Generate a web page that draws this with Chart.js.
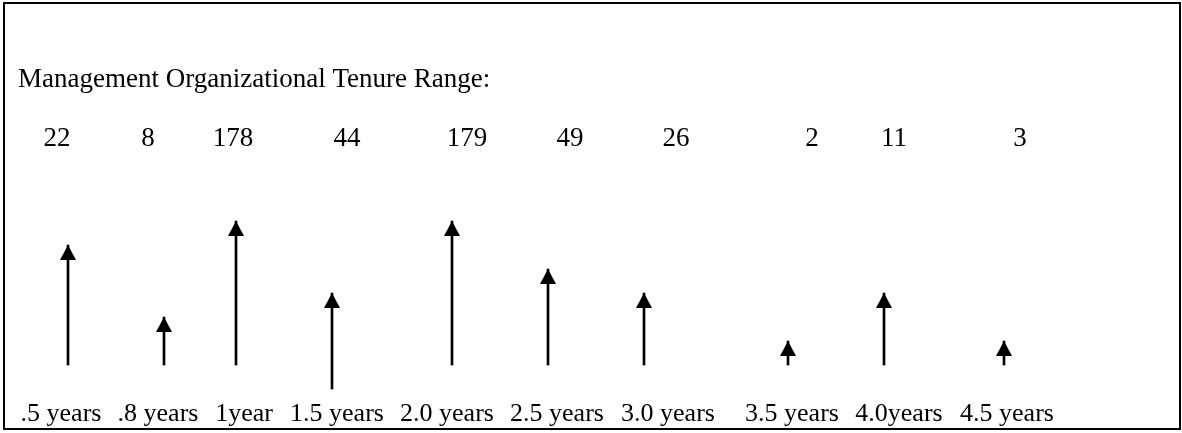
<!DOCTYPE html>
<html><head><meta charset="utf-8">
<script src="https://cdn.jsdelivr.net/npm/chart.js@4.4.0/dist/chart.umd.min.js"></script>
<style>html,body{margin:0;padding:0;background:#fff;}canvas{display:block;}</style>
</head><body>
<canvas id="c" width="1182" height="433"></canvas>
<script>
const titleText = 'Management Organizational Tenure Range:';
const categories = ['.5 years', '.8 years', '1year', '1.5 years', '2.0 years', '2.5 years', '3.0 years', '3.5 years', '4.0years', '4.5 years'];
const counts = [22, 8, 178, 44, 179, 49, 26, 2, 11, 3];
const slotPositions = [0, 4, 7, 11, 16, 20, 24, 30, 34, 39];
const arrowTop = [5, 2, 6, 3, 6, 4, 3, 1, 3, 1];
const arrowBase = [0, 0, 0, -1, 0, 0, 0, 0, 0, 0];

// layout (pixels / styles)
const FONT = '"Liberation Serif", "Times New Roman", serif';
const countDx = [-11, -16, -3, 15, 15, 22, 32, 24, 10, 16];
const labelDx = [-7, -6, 8, 5, -5, 9, 24, 4, 15, 3];

const arrowData = slotPositions.map((s, i) => ({ x: s, y: [arrowBase[i], arrowTop[i]] }));

const decor = {
  id: 'decor',
  beforeDraw(chart) {
    const ctx = chart.ctx;
    ctx.save();
    ctx.fillStyle = '#fff';
    ctx.fillRect(0, 0, chart.width, chart.height);
    ctx.strokeStyle = '#000';
    ctx.lineWidth = 2;
    ctx.strokeRect(4, 3, 1176, 426);
    ctx.restore();
  },
  afterDatasetsDraw(chart) {
    const ctx = chart.ctx;
    const meta = chart.getDatasetMeta(0);
    const ys = chart.scales.y;
    ctx.save();
    ctx.fillStyle = '#000';
    meta.data.forEach((el, i) => {
      const x = el.x;
      const y = ys.getPixelForValue(arrowTop[i]);
      ctx.beginPath();
      ctx.moveTo(x, y);
      ctx.lineTo(x + 8, y + 15);
      ctx.lineTo(x - 8, y + 15);
      ctx.closePath();
      ctx.fill();
    });
    ctx.textBaseline = 'alphabetic';
    ctx.font = '27px ' + FONT;
    ctx.textAlign = 'left';
    ctx.fillText(titleText, 18, 87);
    ctx.textAlign = 'center';
    meta.data.forEach((el, i) => {
      ctx.fillText(String(counts[i]), el.x + countDx[i], 146);
    });
    ctx.font = '26px ' + FONT;
    meta.data.forEach((el, i) => {
      ctx.fillText(categories[i], el.x + labelDx[i], 421);
    });
    ctx.restore();
  }
};

new Chart(document.getElementById('c'), {
  type: 'bar',
  data: {
    datasets: [{
      data: arrowData,
      backgroundColor: '#000',
      borderWidth: 0,
      barThickness: 2,
      grouped: false
    }]
  },
  options: {
    responsive: false,
    animation: false,
    layout: { padding: 0 },
    plugins: { legend: { display: false }, tooltip: { enabled: false } },
    scales: {
      x: { type: 'linear', display: false, offset: false, min: -68 / 24, max: (1182 - 68) / 24 },
      y: { type: 'linear', display: false, min: -68 / 24, max: 365 / 24 }
    }
  },
  plugins: [decor]
});
</script>
</body></html>
